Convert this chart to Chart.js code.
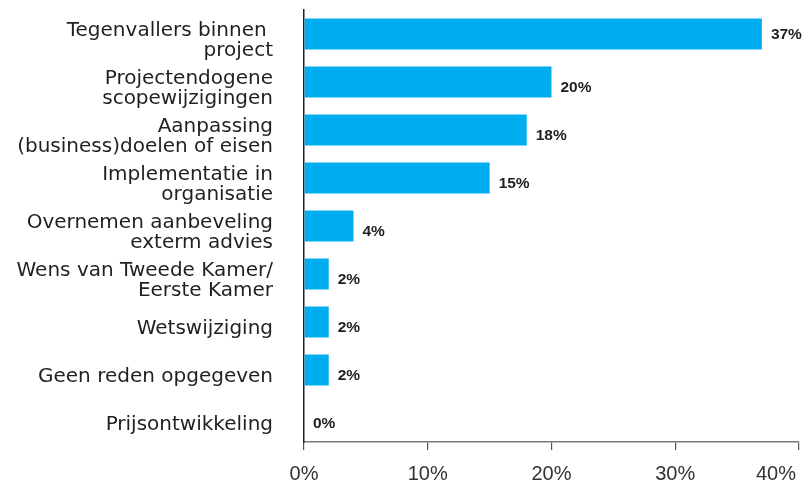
<!DOCTYPE html>
<html>
<head>
<meta charset="utf-8">
<script src="https://cdn.jsdelivr.net/npm/chart.js@4/dist/chart.umd.min.js"></script>
<style>
  html, body { margin: 0; padding: 0; background: #fff; }
  #wrap { width: 805px; height: 484px; position: relative; }
</style>
</head>
<body>
<div id="wrap"><canvas id="chart"></canvas></div>
<script>
// Redenen voor wijzigingen (aandeel in %)
const categories = [
  ["Tegenvallers binnen ", "project"],
  ["Projectendogene", "scopewijzigingen"],
  ["Aanpassing", "(business)doelen of eisen"],
  ["Implementatie in", "organisatie"],
  ["Overnemen aanbeveling", "exterm advies"],
  ["Wens van Tweede Kamer/", "Eerste Kamer"],
  "Wetswijziging",
  "Geen reden opgegeven",
  "Prijsontwikkeling"
];
const shares = [37, 20, 18, 15, 4, 2, 2, 2, 0];
const axisTicks = [0, 10, 20, 30, 40];

const BAR_COLOR = '#00AEEF';
const TEXT_COLOR = '#231F20';

// Value labels to the right of each bar
const valueLabels = {
  id: 'valueLabels',
  afterDatasetsDraw(chart) {
    const ctx = chart.ctx;
    const meta = chart.getDatasetMeta(0);
    ctx.save();
    ctx.font = 'bold 15.5px "Liberation Sans", Arial, sans-serif';
    ctx.fillStyle = TEXT_COLOR;
    ctx.textAlign = 'left';
    ctx.textBaseline = 'middle';
    meta.data.forEach((bar, i) => {
      const dy = i === 0 ? 1 : 6;
      ctx.fillText(shares[i] + '%', bar.x + 9, bar.y + dy);
    });
    ctx.restore();
  }
};

// Percentage labels under the horizontal axis, kept inside the canvas
const xTickLabels = {
  id: 'xTickLabels',
  afterDraw(chart) {
    const ctx = chart.ctx;
    const scale = chart.scales.x;
    ctx.save();
    ctx.font = '20px "Liberation Sans", Arial, sans-serif';
    ctx.fillStyle = '#333';
    ctx.textAlign = 'center';
    ctx.textBaseline = 'middle';
    const limit = chart.width - 9;
    axisTicks.forEach(v => {
      const text = v + '%';
      const w = ctx.measureText(text).width;
      let x = scale.getPixelForValue(v);
      if (x + w / 2 > limit) x = limit - w / 2;
      ctx.fillText(text, x, 474);
    });
    ctx.restore();
  }
};

new Chart(document.getElementById('chart'), {
  type: 'bar',
  data: {
    labels: categories,
    datasets: [{
      data: shares,
      backgroundColor: BAR_COLOR,
      borderWidth: 0,
      barPercentage: 0.646,
      categoryPercentage: 1.0
    }]
  },
  options: {
    indexAxis: 'y',
    responsive: true,
    maintainAspectRatio: false,
    animation: false,
    layout: { padding: { top: 10, right: 6, bottom: 34, left: 0 } },
    plugins: {
      legend: { display: false },
      tooltip: { enabled: false }
    },
    scales: {
      x: {
        type: 'linear',
        min: 0,
        max: 40,
        afterBuildTicks(scale) {
          scale.ticks = axisTicks.map(v => ({ value: v }));
        },
        afterFit(scale) {
          scale.height = 8;
          scale.paddingLeft = 0;
          scale.paddingRight = 0;
        },
        ticks: { display: false },
        grid: {
          display: true,
          drawOnChartArea: false,
          drawTicks: true,
          tickLength: 8,
          color: '#555',
          lineWidth: 1.2
        },
        border: { display: true, color: '#7a7a7a', width: 1.5 }
      },
      y: {
        type: 'category',
        afterFit(scale) {
          scale.width = 304;
          scale.paddingTop = 0;
          scale.paddingBottom = 0;
        },
        grid: { display: false, drawTicks: false },
        border: { display: true, color: '#222', width: 1.5 },
        ticks: {
          padding: 31,
          labelOffset: 7,
          color: TEXT_COLOR,
          autoSkip: false,
          font: { family: '"DejaVu Sans", sans-serif', size: 20, lineHeight: 1.0 }
        }
      }
    }
  },
  plugins: [valueLabels, xTickLabels]
});
</script>
</body>
</html>
